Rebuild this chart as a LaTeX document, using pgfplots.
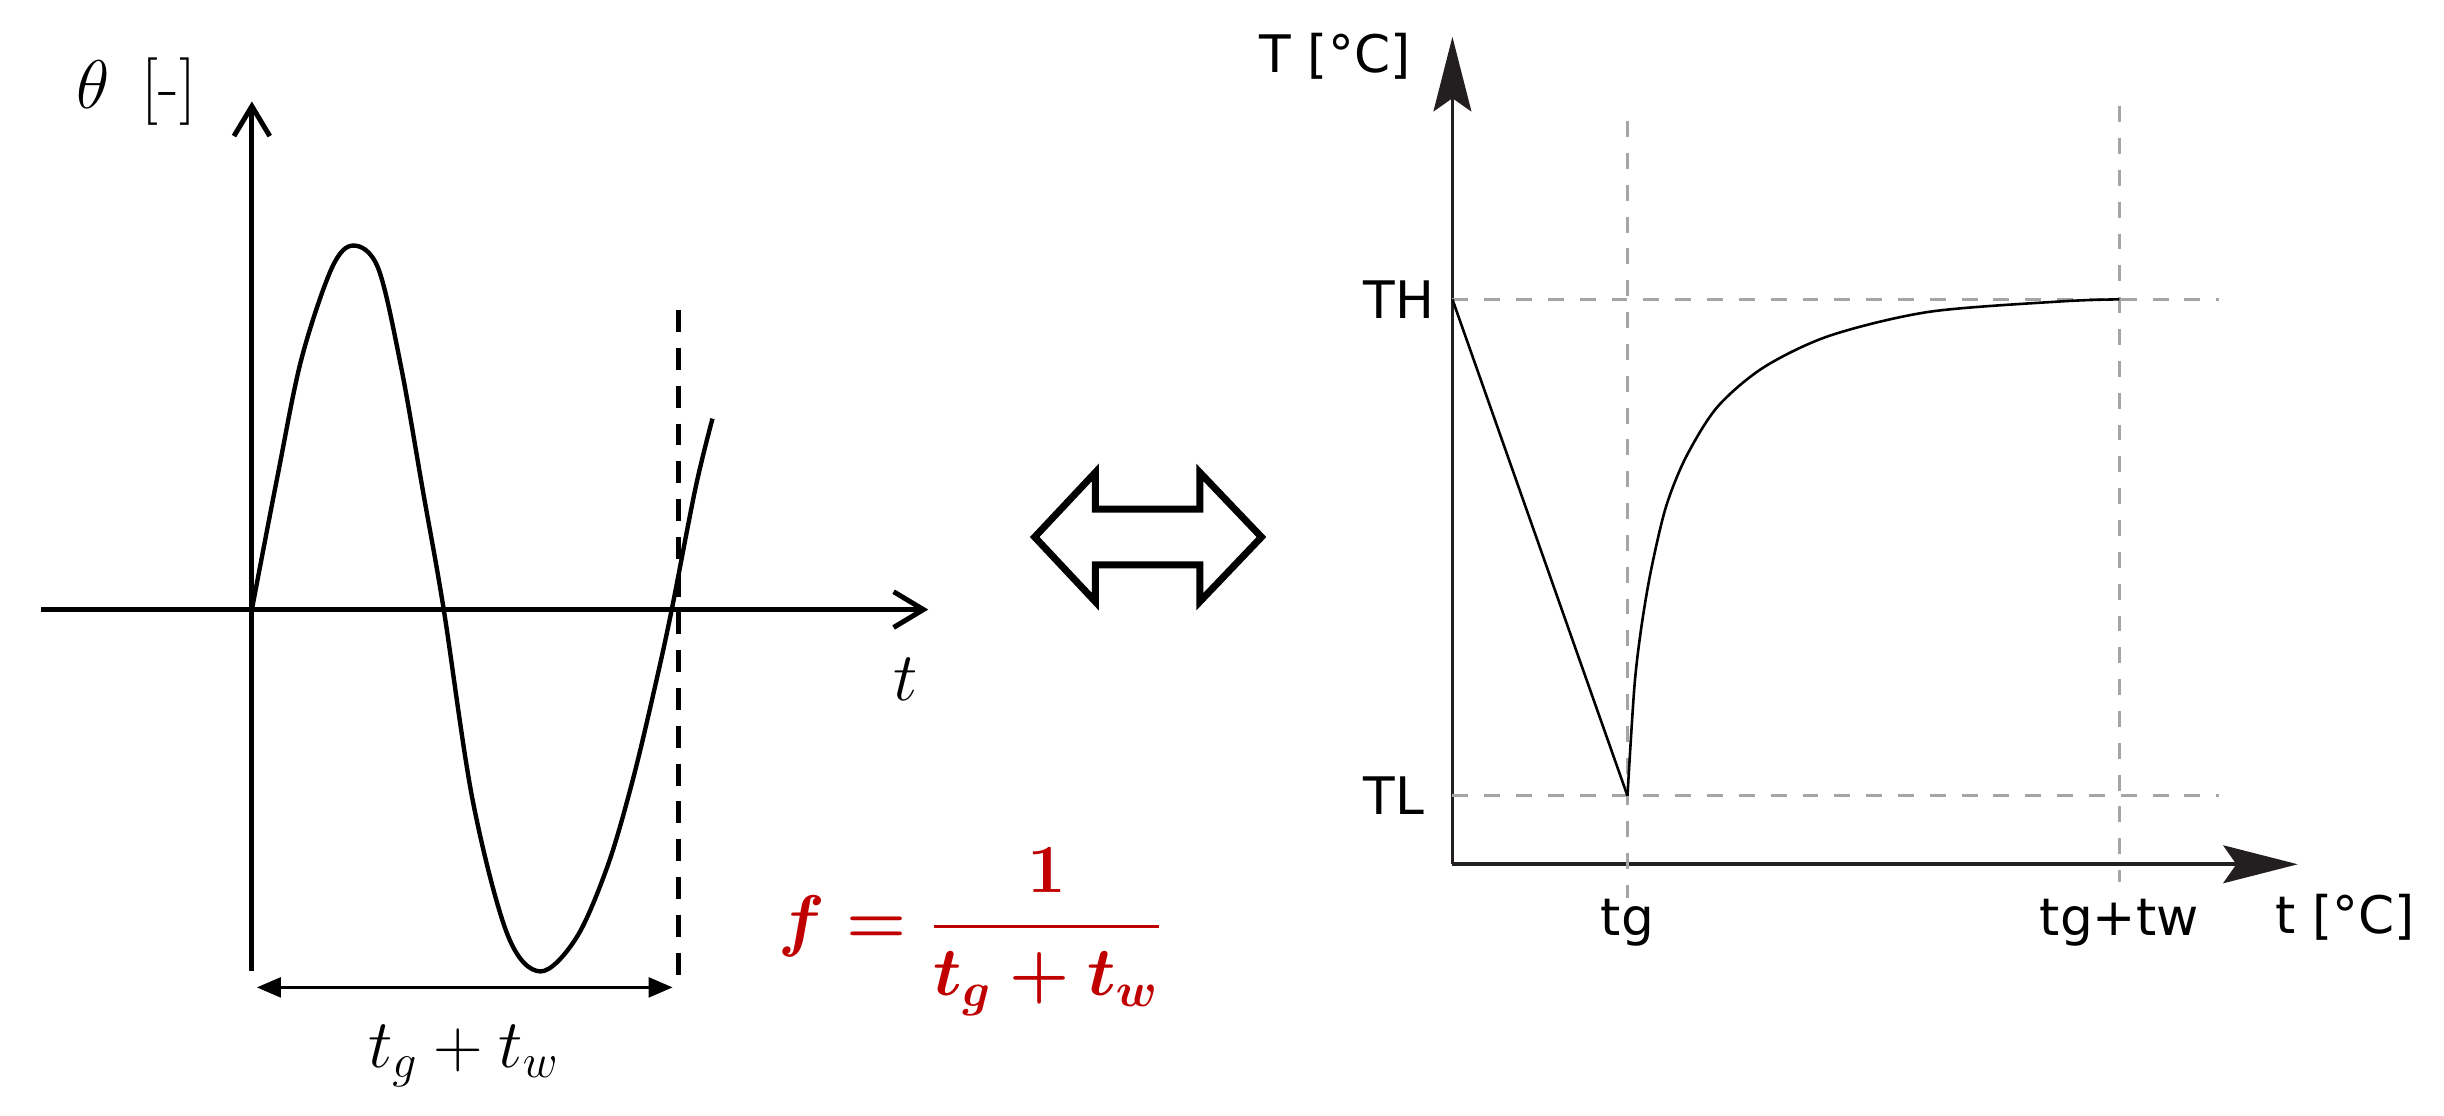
\documentclass[border=0pt]{standalone}
\usepackage{amsmath}
\usepackage{fontspec}
\usepackage{pgfplots}
\pgfplotsset{compat=1.18}
\usetikzlibrary{arrows.meta}
\newfontfamily\dejavu{DejaVu Sans}
\definecolor{fred}{RGB}{192,0,0}
\definecolor{gridgray}{RGB}{165,165,165}
\definecolor{axdark}{RGB}{35,31,32}
\newsavebox{\freqbox}

\begin{document}
\sbox{\freqbox}{\color{fred}\fontsize{17}{20}\selectfont\boldmath$\displaystyle f=\frac{1}{t_g+t_w}$}
\begin{tikzpicture}
\path[use as bounding box] (0,0) rectangle (611pt,280.5pt);

% left: sine-like signal theta(t)
\begin{axis}[
    at={(7pt,36.5pt)}, anchor=south west, scale only axis,
    width=223pt, height=218.5pt,
    xmin=-0.502, xmax=1.611, ymin=-0.995, ymax=1.4,
    axis lines=middle,
    axis line style={line width=1.25pt, -{Straight Barb[length=7.5pt,width=9pt]}},
    xtick=\empty, ytick=\empty,
    clip=false,
]
    \draw[line width=1.25pt, dash pattern=on 5.5pt off 4pt] (axis cs:1.017,0.825) -- (axis cs:1.017,-1.038);
    \addplot[black, line width=1.1pt, smooth, tension=0.55] coordinates {
        (0,0) (0.062,0.373) (0.118,0.690) (0.190,0.940) (0.242,1.003)
        (0.301,0.940) (0.355,0.671) (0.408,0.323) (0.457,0) (0.526,-0.526)
        (0.609,-0.896) (0.687,-0.997) (0.773,-0.904) (0.848,-0.704) (0.908,-0.466)
        (0.962,-0.203) (1.0,0) (1.057,0.337) (1.097,0.526)
    };
    \draw[line width=0.6pt, {Triangle[length=6pt,width=5pt]}-{Triangle[length=6pt,width=5pt]}] (axis cs:0.012,-1.041) -- (axis cs:1.002,-1.041);
    \node[font=\fontsize{17}{20}\selectfont] at (axis cs:1.557,-0.192) {$t$};
    \node[font=\fontsize{17}{20}\selectfont] at (axis cs:-0.275,1.427) {$\theta$\, [-]};
    \node[font=\fontsize{18}{21}\selectfont] at (axis cs:0.505,-1.23) {$t_g + t_w$};
\end{axis}

% frequency formula
\node at (240.75pt,46.25pt) {\usebox{\freqbox}};

% outline double arrow
\draw[line width=1.75pt] (256.75pt,145.5pt) -- (272pt,161.75pt) -- (272pt,152.5pt) -- (298.25pt,152.5pt) -- (298.25pt,161.75pt) -- (313.75pt,145.5pt) -- (298.25pt,129.25pt) -- (298.25pt,138.5pt) -- (272pt,138.5pt) -- (272pt,129.25pt) -- cycle;

% right: temperature cycle
\begin{axis}[
    at={(361.75pt,63.25pt)}, anchor=south west, scale only axis,
    width=212.5pt, height=208pt,
    xmin=0, xmax=4.83, ymin=-0.138, ymax=1.529,
    axis lines=left,
    axis line style={line width=0.9pt, draw=axdark, -{Stealth[length=18.75pt,width=9.5pt,inset=3.3pt]}},
    xtick={1,3.81}, xticklabels={tg, tg+tw},
    ytick={0,1}, yticklabels={TL, TH},
    major tick length=0pt,
    ticklabel style={font=\dejavu\fontsize{13}{15}\selectfont},
    xticklabel style={anchor=north, inner sep=0pt, yshift=-8.5pt},
    yticklabel style={anchor=west, inner sep=0pt, xshift=-22.5pt},
    clip=false,
]
    \draw[gridgray, line width=0.7pt, dash pattern=on 4pt off 4pt] (axis cs:0,1) -- (axis cs:4.38,1);
    \draw[gridgray, line width=0.7pt, dash pattern=on 4pt off 4pt] (axis cs:0,0) -- (axis cs:4.38,0);
    \draw[gridgray, line width=0.7pt, dash pattern=on 4pt off 4pt] (axis cs:1,1.359) -- (axis cs:1,-0.206);
    \draw[gridgray, line width=0.7pt, dash pattern=on 4pt off 4pt] (axis cs:3.81,1.389) -- (axis cs:3.81,-0.174);
    \addplot[black, line width=0.65pt] coordinates {(0,1) (1,0)};
    \addplot[black, line width=0.65pt, smooth, tension=0.5] coordinates {
        (1,0) (1.040,0.221) (1.080,0.341) (1.135,0.455) (1.220,0.582)
        (1.334,0.682) (1.513,0.783) (1.778,0.863) (2.157,0.927) (2.725,0.975)
        (3.483,0.996) (3.81,1.0)
    };
    \node[font=\dejavu\fontsize{13}{15}\selectfont] at (axis cs:5.10,-0.245) {t [°C]};
    \node[font=\dejavu\fontsize{13}{15}\selectfont] at (axis cs:-0.67,1.49) {T [°C]};
\end{axis}
\end{tikzpicture}
\end{document}
